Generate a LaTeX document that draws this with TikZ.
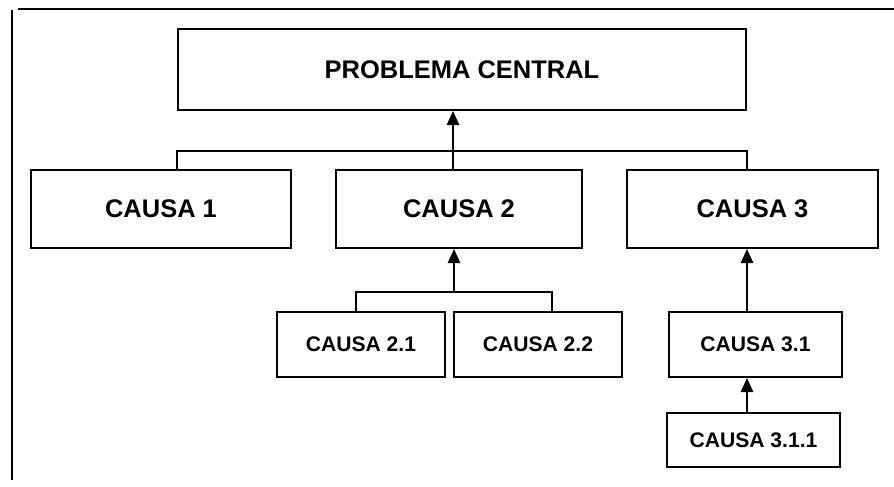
\documentclass[tikz,border=0pt]{standalone}
\usepackage{fontspec}
\setmainfont{Liberation Sans}
\usetikzlibrary{arrows.meta}
\begin{document}
\begin{tikzpicture}[
    caja/.style={draw, line width=1.1pt, inner sep=0pt, font=\bfseries\fontsize{14.5}{17}\selectfont},
    cajita/.style={caja, font=\bfseries\fontsize{12}{14}\selectfont},
    flecha/.style={-{Triangle[length=8pt,width=7pt]}, line width=1.1pt}
  ]
    \useasboundingbox (0,0) rectangle (17.88,9.72);

    % marco
    \draw[line width=1.1pt] (0.24,0.12) -- (0.24,9.52);
    \draw[line width=1.1pt] (0.36,9.534) -- (17.88,9.534);

    % problema
    \node[caja, minimum width=11.36cm, minimum height=1.62cm] (problema) at (9.24,8.33) {PROBLEMA CENTRAL};

    % causas
    \node[caja, minimum width=5.2cm, minimum height=1.56cm] (c1) at (3.22,5.54) {CAUSA 1};
    \node[caja, minimum width=4.92cm, minimum height=1.56cm] (c2) at (9.18,5.54) {CAUSA 2};
    \node[caja, minimum width=5.02cm, minimum height=1.56cm] (c3) at (15.05,5.54) {CAUSA 3};

    % subcausas
    \node[cajita, minimum width=3.36cm, minimum height=1.3cm] (c21) at (7.22,2.83) {CAUSA 2.1};
    \node[cajita, minimum width=3.36cm, minimum height=1.3cm] (c22) at (10.76,2.83) {CAUSA 2.2};
    \node[cajita, minimum width=3.46cm, minimum height=1.3cm] (c31) at (15.11,2.83) {CAUSA 3.1};
    \node[cajita, minimum width=3.46cm, minimum height=1.08cm] (c311) at (15.07,0.92) {CAUSA 3.1.1};

    % barras
    \coordinate (barI) at (problema.west |- 0,6.706);
    \coordinate (barD) at (problema.east |- 0,6.706);
    \coordinate (barM) at (9.06,6.706);
    \coordinate (subI) at (7.12,3.88);
    \coordinate (subD) at (11.04,3.88);
    \coordinate (subM) at (9.08,3.88);
    \coordinate (eje3) at (14.94,0);

    \draw[line width=1.1pt] (barI |- c1.north) -- (barI) -- (barD) -- (barD |- c3.north);
    \draw[flecha] (barM |- c2.north) -- (barM |- problema.south);

    \draw[line width=1.1pt] (subI |- c21.north) -- (subI) -- (subD) -- (subD |- c22.north);
    \draw[flecha] (subM) -- (subM |- c2.south);

    \draw[flecha] (eje3 |- c31.north) -- (eje3 |- c3.south);
    \draw[flecha] (eje3 |- c311.north) -- (eje3 |- c31.south);
\end{tikzpicture}
\end{document}
